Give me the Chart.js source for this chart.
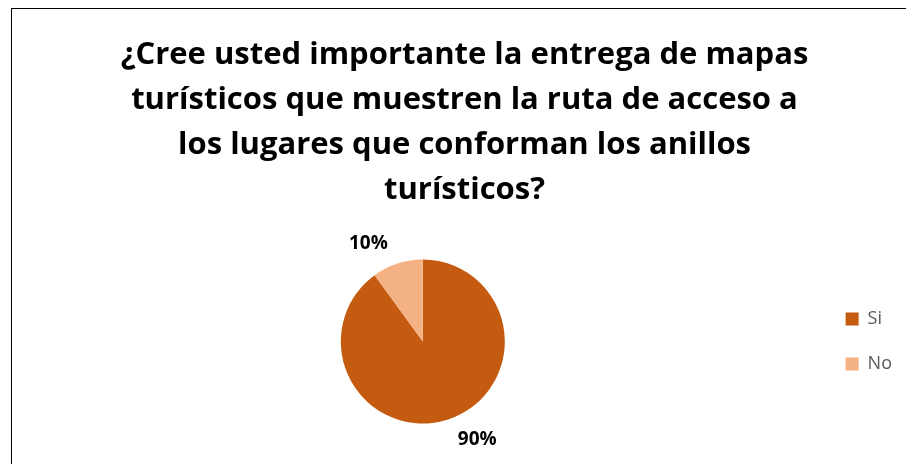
<!DOCTYPE html>
<html>
<head>
<meta charset="utf-8">
<script src="https://cdn.jsdelivr.net/npm/chart.js@4.4.1/dist/chart.umd.min.js"></script>
<style>
  html, body { margin: 0; padding: 0; background: #fff; overflow: hidden; width: 906px; height: 464px; }
  #frame { position: absolute; left: 11px; top: 8px; width: 1000px; height: 1000px; border-left: 1px solid #000; border-top: 1px solid #000; }
  #chart { position: absolute; left: 11px; top: 8px; }
</style>
</head>
<body>
<canvas id="chart" width="906" height="464"></canvas>
<div id="frame"></div>
<script>
const titleLines = [
  '¿Cree usted importante la entrega de mapas',
  'turísticos que muestren la ruta de acceso a',
  'los lugares que conforman los anillos',
  'turísticos?'
];
const categories = ['Si', 'No'];
const values = [90, 10];
const sliceColors = ['#C55A11', '#F4B183'];

// percent labels outside the pie, nudged like Excel's best fit
const pctLabels = {
  id: 'pctLabels',
  afterDatasetsDraw(chart) {
    const ctx = chart.ctx;
    const meta = chart.getDatasetMeta(0);
    const total = values.reduce((a, b) => a + b, 0);
    ctx.save();
    ctx.font = 'bold 19px "Open Sans"';
    ctx.fillStyle = '#000';
    ctx.textAlign = 'center';
    ctx.textBaseline = 'middle';
    meta.data.forEach((arc, i) => {
      const p = arc.getProps(['x', 'y', 'startAngle', 'endAngle', 'outerRadius'], true);
      const mid = (p.startAngle + p.endAngle) / 2 - 11 * Math.PI / 180;
      const d = p.outerRadius * 1.37;
      const text = Math.round(values[i] / total * 100) + '%';
      ctx.fillText(text, p.x + Math.cos(mid) * d, p.y + Math.sin(mid) * d);
    });
    ctx.restore();
  }
};

new Chart(document.getElementById('chart').getContext('2d'), {
  type: 'pie',
  data: {
    labels: categories,
    datasets: [{
      data: values,
      backgroundColor: sliceColors,
      borderWidth: 0
    }]
  },
  options: {
    responsive: false,
    animation: false,
    layout: { padding: { left: 16, right: 15, top: 0, bottom: 48.5 } },
    plugins: {
      title: {
        display: true,
        text: titleLines,
        color: '#000',
        font: { family: 'Open Sans', size: 31, weight: 'bold', lineHeight: 45 / 31 },
        padding: { top: 25, bottom: 46.5 }
      },
      legend: {
        position: 'right',
        fullSize: false,
        labels: {
          boxWidth: 13,
          boxHeight: 13,
          padding: 27,
          color: '#595959',
          font: { family: 'Open Sans', size: 18 }
        }
      },
      tooltip: { enabled: false }
    }
  },
  plugins: [pctLabels]
});
</script>
</body>
</html>
